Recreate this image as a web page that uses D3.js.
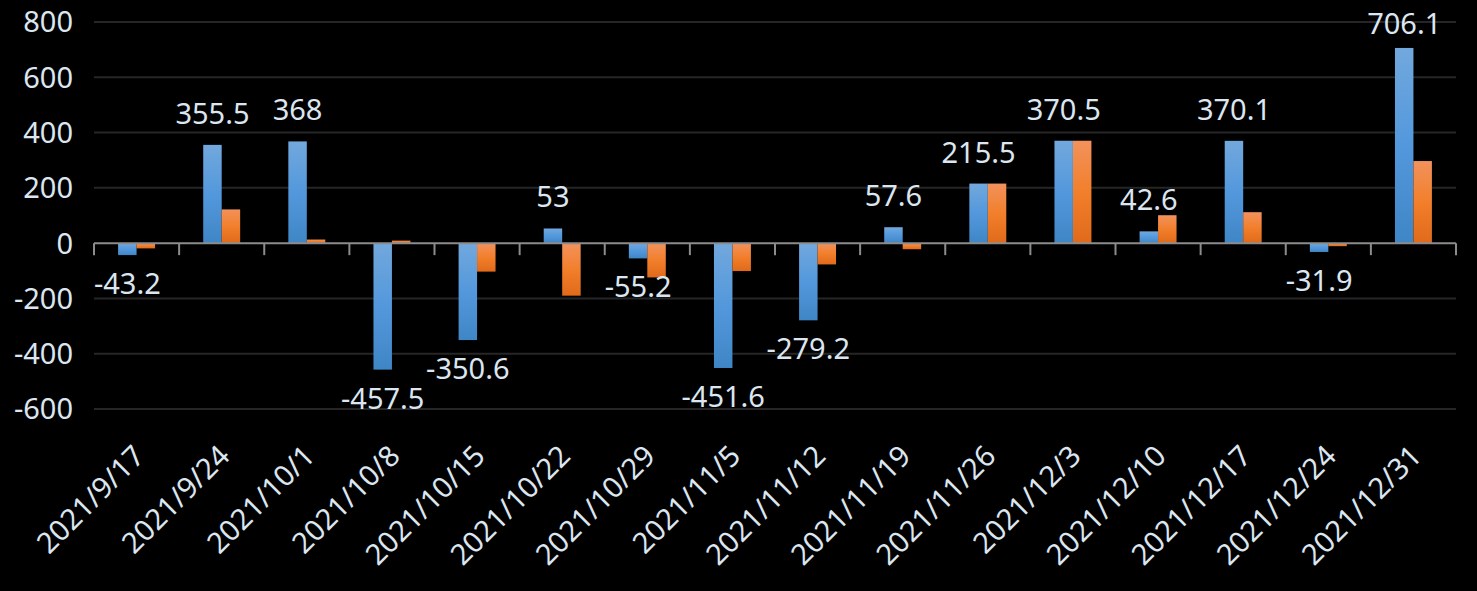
<!DOCTYPE html>
<html lang="en">
<head>
    <meta charset="UTF-8">
    <title>Weekly bars</title>
    <script src="https://d3js.org/d3.v7.min.js"></script>
    <style>
        html, body { margin: 0; padding: 0; background: #000; }
        svg text { font-family: "Noto Sans", "Open Sans", sans-serif; fill: #dce6f0; }
    </style>
</head>
<body>
<div id="chart"></div>
<script>
    // category labels and the two series
    let dates = ["2021/9/17", "2021/9/24", "2021/10/1", "2021/10/8", "2021/10/15", "2021/10/22",
        "2021/10/29", "2021/11/5", "2021/11/12", "2021/11/19", "2021/11/26", "2021/12/3",
        "2021/12/10", "2021/12/17", "2021/12/24", "2021/12/31"];
    let blueValues = [-43.2, 355.5, 368, -457.5, -350.6, 53, -55.2, -451.6, -279.2, 57.6,
        215.5, 370.5, 42.6, 370.1, -31.9, 706.1];
    let orangeValues = [-19, 122, 13, 9, -103, -190, -124, -101, -77, -22,
        215.5, 370.5, 101, 112, -11, 297];
    let yTicks = [800, 600, 400, 200, 0, -200, -400, -600];

    let width = 1477, height = 591;
    let margin = {top: 22, right: 21, bottom: 182, left: 94};

    let svg = d3.select("#chart").append("svg")
        .attr("width", width)
        .attr("height", height);

    let defs = svg.append("defs");
    function addGradient(id, stops) {
        let g = defs.append("linearGradient")
            .attr("id", id)
            .attr("x1", 0).attr("y1", 0).attr("x2", 0).attr("y2", 1);
        stops.forEach(s => g.append("stop").attr("offset", s[0]).attr("stop-color", s[1]));
    }
    addGradient("blueGrad", [[0, "#72a8dd"], [0.5, "#5398dc"], [1, "#3f86c6"]]);
    addGradient("orangeGrad", [[0, "#f2925c"], [0.5, "#f27f2c"], [1, "#e06a1a"]]);

    let x = d3.scaleBand()
        .domain(dates)
        .range([margin.left, width - margin.right])
        .padding(0);

    let y = d3.scaleLinear()
        .domain([-600, 800])
        .range([height - margin.bottom, margin.top]);

    let barW = x.bandwidth() * 0.217;

    // gridlines
    svg.append("g")
        .selectAll("line")
        .data(yTicks.filter(d => d !== 0))
        .join("line")
        .attr("x1", margin.left)
        .attr("x2", width - margin.right)
        .attr("y1", d => y(d))
        .attr("y2", d => y(d))
        .attr("stroke", "#262626")
        .attr("stroke-width", 2);

    // y labels
    svg.append("g")
        .selectAll("text")
        .data(yTicks)
        .join("text")
        .attr("x", 73)
        .attr("y", d => y(d))
        .attr("dy", "0.36em")
        .attr("text-anchor", "end")
        .attr("font-size", 29)
        .text(d => d);

    // bars
    let groups = svg.append("g")
        .selectAll("g")
        .data(dates)
        .join("g");

    groups.append("rect")
        .attr("x", (d, i) => x(d) + x.bandwidth() / 2 - barW)
        .attr("y", (d, i) => y(Math.max(0, blueValues[i])))
        .attr("width", barW)
        .attr("height", (d, i) => Math.abs(y(blueValues[i]) - y(0)))
        .attr("fill", "url(#blueGrad)");

    groups.append("rect")
        .attr("x", (d, i) => x(d) + x.bandwidth() / 2)
        .attr("y", (d, i) => y(Math.max(0, orangeValues[i])))
        .attr("width", barW)
        .attr("height", (d, i) => Math.abs(y(orangeValues[i]) - y(0)))
        .attr("fill", "url(#orangeGrad)");

    // zero axis with ticks at category boundaries
    let axis = svg.append("g");
    axis.append("line")
        .attr("x1", margin.left)
        .attr("x2", width - margin.right)
        .attr("y1", y(0))
        .attr("y2", y(0))
        .attr("stroke", "#8c8c8c")
        .attr("stroke-width", 2);
    let edges = dates.map(d => x(d)).concat([width - margin.right]);
    axis.selectAll("line.tick")
        .data(edges)
        .join("line")
        .attr("class", "tick")
        .attr("x1", d => d)
        .attr("x2", d => d)
        .attr("y1", y(0))
        .attr("y2", y(0) + 12)
        .attr("stroke", "#8c8c8c")
        .attr("stroke-width", 2);

    // data labels on blue series
    svg.append("g")
        .selectAll("text")
        .data(dates)
        .join("text")
        .attr("x", d => x(d) + x.bandwidth() / 2 - barW / 2)
        .attr("y", (d, i) => {
            let v = blueValues[i];
            if (v >= 0) return Math.max(y(v) - 21, 34);
            return y(v) + 39;
        })
        .attr("text-anchor", "middle")
        .attr("font-size", 29)
        .text((d, i) => blueValues[i]);

    // rotated category labels
    svg.append("g")
        .selectAll("text")
        .data(dates)
        .join("text")
        .attr("transform", d => `translate(${x(d) + x.bandwidth() / 2 - 5},${443}) rotate(-45)`)
        .attr("dy", "0.72em")
        .attr("text-anchor", "end")
        .attr("font-size", 29)
        .text(d => d);
</script>
</body>
</html>
